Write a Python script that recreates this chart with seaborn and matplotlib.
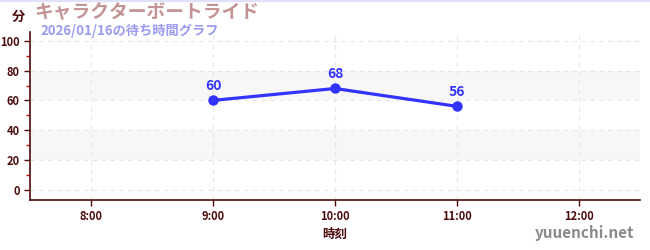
import matplotlib
matplotlib.use("Agg")
import matplotlib.pyplot as plt
import matplotlib.lines as mlines
import seaborn as sns
import pandas as pd
from matplotlib.ticker import MultipleLocator

hours = [9, 10, 11]
waits = [60, 68, 56]
xtick_pos = [8, 9, 10, 11, 12]
xtick_labels = ["8:00", "9:00", "10:00", "11:00", "12:00"]
yticks = [0, 20, 40, 60, 80, 100]
title = "キャラクターボートライド"
subtitle = "2026/01/16の待ち時間グラフ"

sns.set_theme(style="white")
plt.rcParams['font.family'] = ['Noto Sans CJK JP', 'DejaVu Sans']

axis_col = "#4d0a0a"
line_col = "#3333ff"

fig = plt.figure(figsize=(6.5, 2.5), dpi=100)
ax = fig.add_axes([30/650, 1-200/250, 610/650, 168/250])

df = pd.DataFrame({"hour": hours, "wait": waits})

for lo, hi in [(20, 40), (60, 80)]:
    ax.axhspan(lo, hi, color="#f7f7f7", zorder=0, lw=0)

sns.lineplot(data=df, x="hour", y="wait", ax=ax, color=line_col, lw=2.3,
             marker="o", markersize=7.5, markeredgewidth=0, zorder=3)

for h, w in zip(hours, waits):
    ax.annotate(str(w), (h, w), xytext=(0, 5.5), textcoords="offset points",
                ha="center", va="bottom", color=line_col, fontsize=10,
                fontweight="bold")

ax.set_xlim(7.5, 12.5)
ax.set_ylim(-7, 106)
ax.set_xticks(xtick_pos)
ax.set_xticklabels(xtick_labels)
ax.set_yticks(yticks)
ax.yaxis.set_minor_locator(MultipleLocator(10))
ax.grid(True, which="major", color="#e6e6e6", ls=(0, (4, 4)), lw=0.8)
ax.set_axisbelow(True)

for s in ["top", "right"]:
    ax.spines[s].set_visible(False)
for s in ["left", "bottom"]:
    ax.spines[s].set_color(axis_col)
    ax.spines[s].set_linewidth(1.2)

ax.tick_params(axis="both", which="major", length=4, width=1, color=axis_col,
               labelcolor=axis_col, labelsize=8, direction="out", left=True, bottom=True)
ax.tick_params(axis="y", which="minor", length=3, width=1, color="#dd0000", left=True)
for lab in ax.get_xticklabels() + ax.get_yticklabels():
    lab.set_fontweight("bold")

ax.set_xlabel("時刻", color=axis_col, fontsize=9, fontweight="bold", labelpad=3)
ax.set_ylabel("")

fig.text(18/650, 1-17/250, "分", color=axis_col, fontsize=9.5, fontweight="bold",
         ha="center", va="center")
fig.text(34/650, 1-13/250, title, color="#c49494", fontsize=13.5, fontweight="bold",
         ha="left", va="center")
fig.text(40/650, 1-31/250, subtitle, color="#9a9af0", fontsize=9.5, fontweight="bold",
         ha="left", va="center")
fig.text(634/650, 1-233/250, "yuuenchi.net", color="#8a8a8a", fontsize=11,
         fontweight="bold", ha="right", va="center")

fig.add_artist(mlines.Line2D([0, 1], [0.998, 0.998], color="#e0e0fa", lw=1.5,
                             transform=fig.transFigure))

fig.savefig("out.png", dpi=100)
